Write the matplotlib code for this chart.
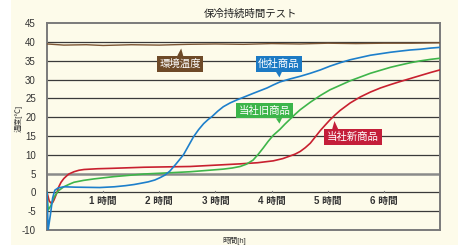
import matplotlib
matplotlib.use("Agg")
import matplotlib.pyplot as plt
from matplotlib.patches import Rectangle

plt.rcParams['font.family'] = ['Liberation Sans', 'Noto Sans CJK JP', 'DejaVu Sans']

# データ (時間[h], 温度[℃])
env_t = [0, 0.3, 0.7, 1.0, 1.5, 2.0, 2.5, 3.0, 3.5, 4.0, 4.5, 5.0, 5.5, 6.0, 6.5, 7.0]
env_v = [39.5, 39.2, 39.3, 39.1, 39.3, 39.2, 39.4, 39.5, 39.4, 39.6, 39.5, 39.7, 39.6, 39.7, 39.7, 39.8]

blue_t = [0, 0.02, 0.06, 0.1, 0.14, 0.2, 0.3, 0.5, 0.94, 1.2, 1.4, 1.55, 1.66, 1.8, 1.92, 2.01,
          2.1, 2.19, 2.3, 2.43, 2.52, 2.61, 2.7, 2.79, 2.87, 2.94, 3.04, 3.14, 3.26, 3.38,
          3.53, 3.68, 3.8, 3.92, 4.03, 4.15, 4.33, 4.51, 4.69, 4.87, 5.04, 5.22, 5.4,
          5.58, 5.76, 5.94, 6.12, 6.29, 6.47, 6.65, 6.83, 7.0]
blue_v = [0, -10, -6, -1.5, 0.6, 1.2, 1.5, 1.4, 1.3, 1.5, 1.8, 2.1, 2.4, 2.8, 3.3, 3.9,
          4.6, 5.7, 7.6, 10.0, 12.4, 14.8, 16.7, 18.3, 19.4, 20.2, 21.6, 22.8, 23.8, 24.6,
          25.5, 26.4, 27.1, 27.8, 28.6, 29.4, 30.2, 30.9, 31.7, 32.6, 33.6, 34.5, 35.3,
          35.9, 36.5, 36.9, 37.3, 37.6, 37.9, 38.1, 38.4, 38.6]

green_t = [0, 0.02, 0.07, 0.125, 0.2, 0.3, 0.4, 0.48, 0.65, 0.84, 1.19, 1.73, 2.01, 2.55,
           3.14, 3.3, 3.44, 3.55, 3.67, 3.76, 3.85, 3.94, 4.03, 4.15, 4.24, 4.33, 4.42, 4.51,
           4.69, 4.87, 5.04, 5.22, 5.4, 5.58, 5.76, 5.94, 6.12, 6.29, 6.47, 6.65, 6.83, 7.0]
green_v = [0, -4.7, -3.5, -1.3, 0.4, 1.5, 2.2, 2.7, 3.2, 3.6, 4.2, 4.9, 5.1, 5.5,
           6.2, 6.5, 6.9, 7.5, 8.6, 10.1, 11.8, 13.6, 15.2, 16.8, 18.2, 19.5, 20.8, 22.0,
           24.0, 25.8, 27.3, 28.5, 29.7, 30.7, 31.7, 32.5, 33.3, 33.9, 34.5, 35.0, 35.4, 35.7]

red_t = [0, 0.04, 0.07, 0.1, 0.125, 0.17, 0.21, 0.25, 0.3, 0.35, 0.39, 0.48, 0.57, 0.66,
         0.9, 1.14, 1.73, 2.55, 3.44, 3.75, 4.03, 4.2, 4.33, 4.42, 4.51, 4.6, 4.69, 4.78,
         4.87, 4.96, 5.04, 5.13, 5.22, 5.4, 5.58, 5.76, 5.94, 6.12, 6.29, 6.47, 6.65, 6.83, 7.0]
red_v = [0, -2.3, -2.8, -2.7, -2.0, -0.3, 1.5, 2.7, 3.7, 4.4, 4.9, 5.5, 5.9, 6.1,
         6.3, 6.4, 6.7, 6.9, 7.6, 7.9, 8.4, 9.0, 9.7, 10.2, 10.9, 11.9, 13.1, 14.8,
         16.5, 18.0, 19.3, 20.6, 21.8, 23.8, 25.4, 26.7, 27.8, 28.7, 29.5, 30.3, 31.1, 31.9, 32.6]

hours = [1, 2, 3, 4, 5, 6]
y_ticks = list(range(-10, 46, 5))

bg = '#fdfbea'
fig = plt.figure(figsize=(4.58, 2.45), dpi=100, facecolor=bg)
fig.patches.append(Rectangle((0, 0), 11 / 458, 1, transform=fig.transFigure,
                             facecolor='white', edgecolor='none', zorder=-1))
ax = fig.add_axes([47 / 458, 1 - 230 / 245, (440 - 47) / 458, (230 - 23.3) / 245])
ax.set_facecolor(bg)

ax.set_xlim(0, 7)
ax.set_ylim(-10, 45)
ax.set_yticks(y_ticks)
ax.set_yticklabels([str(v) for v in y_ticks], fontsize=7, color='#333333')
ax.set_xticks([])
ax.tick_params(axis='y', length=0, pad=8)
for s in ax.spines.values():
    s.set_color('#7a7a7a')
    s.set_linewidth(1.4)

# 横線
for v in y_ticks[1:-1]:
    if v == 5:
        ax.axhline(v, color='#8a8a8a', lw=1.8, zorder=1)
    else:
        ax.axhline(v, color='#3a3a3a', lw=0.9, zorder=1)

# 時間ラベル
for h in hours:
    ax.plot([h, h], [0, 0.5], color='#777777', lw=0.8, zorder=2)
    ax.text(h, -0.9, f"{h} 時間", ha='center', va='top', fontsize=7,
            fontweight='bold', color='#333333')

ax.plot(env_t, env_v, color='#7b5534', lw=1.0, zorder=3)
ax.plot(red_t, red_v, color='#c8202f', lw=1.2, zorder=4)
ax.plot(green_t, green_v, color='#3fb54a', lw=1.2, zorder=4)
ax.plot(blue_t, blue_v, color='#1d7fcb', lw=1.2, zorder=5)

def callout(text, xy, xytext, color, relpos):
    ax.annotate(text, xy=xy, xytext=xytext, ha='center', va='center',
                fontsize=7.5, color='white', zorder=6,
                bbox=dict(boxstyle='square,pad=0.25', fc=color, ec='none'),
                arrowprops=dict(arrowstyle='wedge,tail_width=0.6', fc=color, ec='none',
                                shrinkA=0, shrinkB=0, relpos=relpos))

callout('環境温度', (2.39, 38.3), (2.37, 34.2), '#6e4a28', (0.5, 1))
callout('他社商品', (4.14, 30.6), (4.13, 34.2), '#1c7ac4', (0.5, 0))
callout('当社旧商品', (4.14, 18.3), (3.87, 21.8), '#3cb54a', (0.78, 0))
callout('当社新商品', (5.12, 19.0), (5.45, 14.7), '#c41e3a', (0.16, 1))

fig.text(251 / 458, 1 - 14 / 245, '保冷持続時間テスト', ha='center', va='center',
         fontsize=7.5, color='#222222')
fig.text(19 / 458, 1 - 118 / 245, '温度[℃]', rotation=90, ha='center', va='center',
         fontsize=5.5, color='#333333')
fig.text(234 / 458, 1 - 240.5 / 245, '時間[h]', ha='center', va='center',
         fontsize=5.5, color='#333333')

fig.savefig('out.png', dpi=100, facecolor=bg)
